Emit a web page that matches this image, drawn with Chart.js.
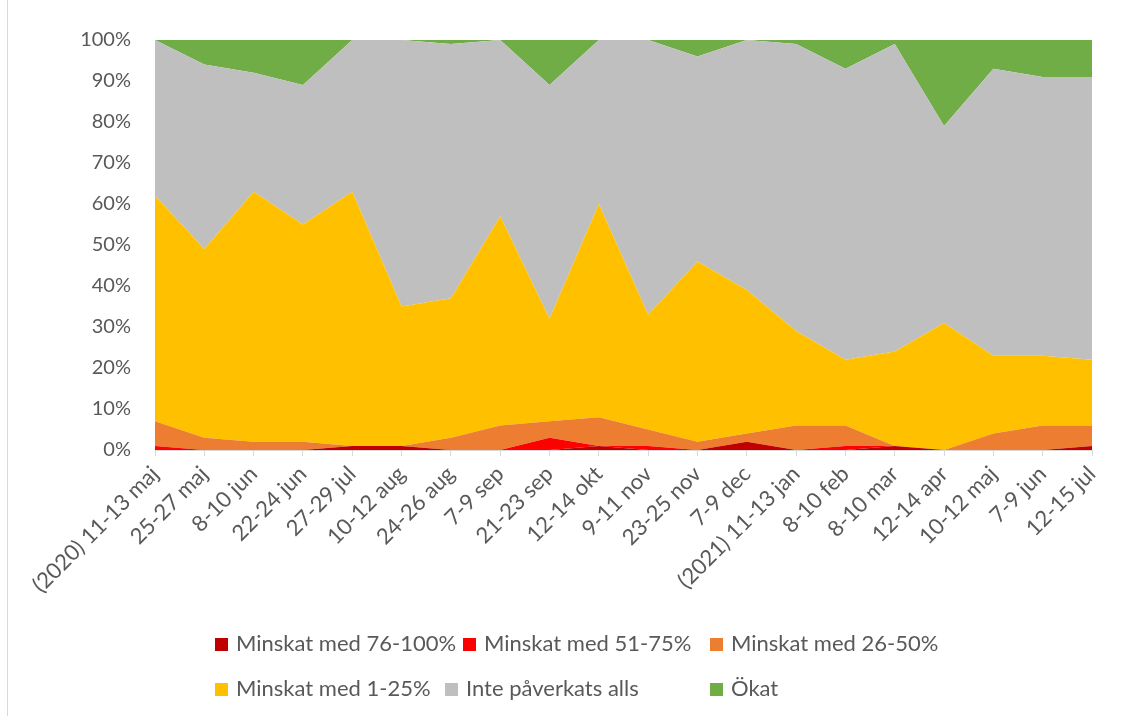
<!DOCTYPE html>
<html>
<head>
<meta charset="utf-8">
<script src="https://cdn.jsdelivr.net/npm/chart.js@4"></script>
<style>
  body { margin: 0; background: #fff; }
  #wrap { position: relative; width: 1131px; height: 716px; }
  #wrap .edge { position: absolute; left: 7px; top: 0; width: 1px; height: 716px; background: #d9d9d9; }
  .leg { position: absolute; font-family: Lato, "Open Sans", sans-serif; font-size: 22px; color: #595959; white-space: nowrap; line-height: 24px; }
  .leg span.box { display: inline-block; width: 13px; height: 13px; margin-right: 8px; vertical-align: 0px; }
</style>
</head>
<body>
<div id="wrap">
  <canvas id="chart" width="1131" height="716"></canvas>
  <div class="edge"></div>
  <div id="legend"></div>
</div>
<script>
// kategorier (x-axeln)
const labels = [
  "(2020) 11-13 maj", "25-27 maj", "8-10 jun", "22-24 jun", "27-29 jul",
  "10-12 aug", "24-26 aug", "7-9 sep", "21-23 sep", "12-14 okt",
  "9-11 nov", "23-25 nov", "7-9 dec", "(2021) 11-13 jan", "8-10 feb",
  "8-10 mar", "12-14 apr", "10-12 maj", "7-9 jun", "12-15 jul"
]

// andelar i procent
const minskat76_100 = [0, 0, 0, 0, 1, 1, 0, 0, 0, 1, 0, 0, 2, 0, 0, 1, 0, 0, 0, 1]
const minskat51_75 = [1, 0, 0, 0, 0, 0, 0, 0, 3, 0, 1, 0, 0, 0, 1, 0, 0, 0, 0, 0]
const minskat26_50 = [6, 3, 2, 2, 0, 0, 3, 6, 4, 7, 4, 2, 2, 6, 5, 0, 0, 4, 6, 5]
const minskat1_25 = [55, 46, 61, 53, 62, 34, 34, 51, 25, 52, 28, 44, 35, 23, 16, 23, 31, 19, 17, 16]
const intePaverkats = [38, 45, 29, 34, 37, 65, 62, 43, 57, 40, 67, 50, 61, 70, 71, 75, 48, 70, 68, 69]
const okat = [0, 6, 8, 11, 0, 0, 1, 0, 11, 0, 0, 4, 0, 1, 7, 1, 21, 7, 9, 9]

const yTicks = [0, 10, 20, 30, 40, 50, 60, 70, 80, 90, 100]

const series = [
  { name: "Minskat med 76-100%", data: minskat76_100, color: "#C00000" },
  { name: "Minskat med 51-75%", data: minskat51_75, color: "#FF0000" },
  { name: "Minskat med 26-50%", data: minskat26_50, color: "#ED7D31" },
  { name: "Minskat med 1-25%", data: minskat1_25, color: "#FFC000" },
  { name: "Inte påverkats alls", data: intePaverkats, color: "#BFBFBF" },
  { name: "Ökat", data: okat, color: "#70AD47" },
]

const textColor = "#595959"
const font = { family: "Lato, 'Open Sans', sans-serif", size: 20 }
const xFont = { family: "Lato, 'Open Sans', sans-serif", size: 22 }

const chart = new Chart(document.getElementById("chart"), {
  type: "line",
  data: {
    labels: labels,
    datasets: series.map((s, i) => ({
      label: s.name,
      data: s.data,
      backgroundColor: s.color,
      borderColor: s.color,
      borderWidth: 0,
      pointRadius: 0,
      tension: 0,
      fill: i === 0 ? "origin" : "-1",
    })),
  },
  options: {
    responsive: false,
    devicePixelRatio: 1,
    animation: false,
    layout: { padding: { top: 40, right: 39, left: 0, bottom: 0 } },
    plugins: {
      legend: { display: false },
      tooltip: { enabled: false },
    },
    scales: {
      x: {
        offset: false,
        grid: { drawOnChartArea: false, drawTicks: true, tickLength: 6, color: "#d9d9d9" },
        border: { color: "#d9d9d9" },
        ticks: { color: textColor, font: xFont, minRotation: 45, maxRotation: 45, autoSkip: false, padding: 5 },
        afterFit: (scale) => { scale.height = 266 },
      },
      y: {
        stacked: true,
        min: 0,
        max: 100,
        afterBuildTicks: (scale) => { scale.ticks = yTicks.map((v) => ({ value: v })) },
        grid: { display: false },
        border: { display: false },
        ticks: { color: textColor, font: font, padding: 16, callback: (v) => v + "%" },
        afterFit: (scale) => { scale.width = 155 },
      },
    },
  },
})

// förklaring (legend) i två rader som i originalet
const legendPos = [
  [215, 631], [463, 631], [710, 631],
  [215, 676], [445, 676], [710, 676],
]
const legendEl = document.getElementById("legend")
series.forEach((s, i) => {
  const item = document.createElement("div")
  item.className = "leg"
  item.style.left = legendPos[i][0] + "px"
  item.style.top = legendPos[i][1] + "px"
  item.innerHTML = '<span class="box" style="background:' + s.color + '"></span>' + s.name
  legendEl.append(item)
})
</script>
</body>
</html>
